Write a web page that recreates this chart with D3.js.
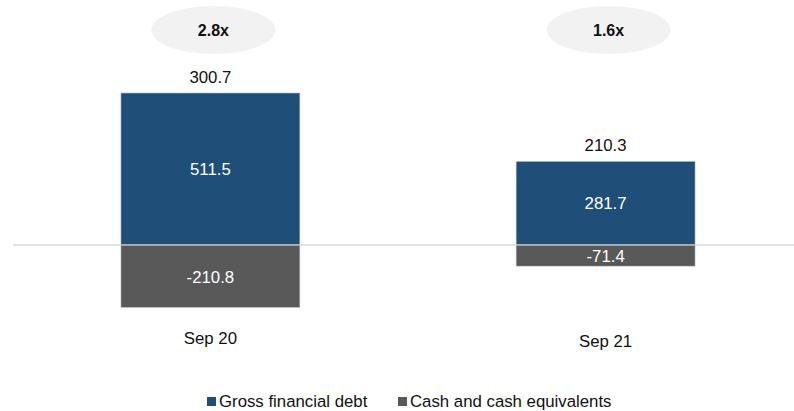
<!DOCTYPE html>
<html>
<head>
<meta charset="utf-8">
<script src="https://cdn.jsdelivr.net/npm/d3@7"></script>
<style>
  body { margin: 0; background: #fff; }
  svg { display: block; font-family: "Liberation Sans", Arial, sans-serif; }
</style>
</head>
<body>
<svg id="chart"></svg>
<script>
// data
const periods = ["Sep 20", "Sep 21"];
const grossDebt = [511.5, 281.7];
const cashEq = [-210.8, -71.4];
const netDebt = [300.7, 210.3];
const leverage = ["2.8x", "1.6x"];
const seriesNames = ["Gross financial debt", "Cash and cash equivalents"];

const width = 794, height = 411;
const blue = "#1f4e79", grey = "#595959";
const fontSize = "16.8px";

const svg = d3.select("#chart")
    .attr("width", width)
    .attr("height", height);

let x = d3.scaleBand()
    .domain(periods)
    .range([13, 803])
    .paddingInner(0.547)
    .paddingOuter(0.273);

let y = d3.scaleLinear()
    .domain([-250, 550])
    .range([319.3, 81.5]);

// leverage bubbles
const bubbles = svg.append("g");
bubbles.selectAll("ellipse")
    .data(periods)
    .join("ellipse")
    .attr("cx", d => x(d) + x.bandwidth() / 2 + 3)
    .attr("cy", 30)
    .attr("rx", 62)
    .attr("ry", 24)
    .attr("fill", "#f2f2f2");
bubbles.selectAll("text")
    .data(periods)
    .join("text")
    .attr("x", d => x(d) + x.bandwidth() / 2 + 3)
    .attr("y", 30)
    .attr("dy", "0.35em")
    .attr("text-anchor", "middle")
    .attr("font-size", "16px")
    .attr("font-weight", "bold")
    .attr("fill", "#111")
    .text((d, i) => leverage[i]);

// bars
const bars = svg.append("g");
bars.selectAll("rect.debt")
    .data(periods)
    .join("rect")
    .attr("class", "debt")
    .attr("x", d => x(d))
    .attr("width", x.bandwidth())
    .attr("y", (d, i) => y(grossDebt[i]))
    .attr("height", (d, i) => y(0) - y(grossDebt[i]))
    .attr("fill", blue)
    .attr("stroke", "#d9d9d9")
    .attr("stroke-width", 0.6);

bars.selectAll("rect.cash")
    .data(periods)
    .join("rect")
    .attr("class", "cash")
    .attr("x", d => x(d))
    .attr("width", x.bandwidth())
    .attr("y", y(0))
    .attr("height", (d, i) => y(cashEq[i]) - y(0))
    .attr("fill", grey)
    .attr("stroke", "#d9d9d9")
    .attr("stroke-width", 0.6);

// zero line
svg.append("line")
    .attr("x1", 13)
    .attr("x2", width)
    .attr("y1", y(0))
    .attr("y2", y(0))
    .attr("stroke", "#c8c8c8")
    .attr("stroke-width", 1.2);

// labels inside the bars
svg.append("g").selectAll("text")
    .data(periods)
    .join("text")
    .attr("x", d => x(d) + x.bandwidth() / 2)
    .attr("y", (d, i) => (y(grossDebt[i]) + y(0)) / 2)
    .attr("dy", "0.35em")
    .attr("text-anchor", "middle")
    .attr("font-size", fontSize)
    .attr("fill", "#fff")
    .text((d, i) => grossDebt[i].toFixed(1));

svg.append("g").selectAll("text")
    .data(periods)
    .join("text")
    .attr("x", d => x(d) + x.bandwidth() / 2)
    .attr("y", (d, i) => (y(cashEq[i]) + y(0)) / 2 + 1)
    .attr("dy", "0.35em")
    .attr("text-anchor", "middle")
    .attr("font-size", fontSize)
    .attr("fill", "#fff")
    .text((d, i) => cashEq[i].toFixed(1));

// net debt totals above
svg.append("g").selectAll("text")
    .data(periods)
    .join("text")
    .attr("x", d => x(d) + x.bandwidth() / 2)
    .attr("y", (d, i) => y(grossDebt[i]) - 16)
    .attr("dy", "0.35em")
    .attr("text-anchor", "middle")
    .attr("font-size", fontSize)
    .attr("fill", "#111")
    .text((d, i) => netDebt[i].toFixed(1));

// category labels
svg.append("g").selectAll("text")
    .data(periods)
    .join("text")
    .attr("x", d => x(d) + x.bandwidth() / 2)
    .attr("y", (d, i) => i === 0 ? 338 : 341)
    .attr("dy", "0.35em")
    .attr("text-anchor", "middle")
    .attr("font-size", fontSize)
    .attr("fill", "#111")
    .text(d => d);

// legend
const legendX = [207, 398];
const legend = svg.append("g");
legend.selectAll("rect")
    .data(seriesNames)
    .join("rect")
    .attr("x", (d, i) => legendX[i])
    .attr("y", 397)
    .attr("width", 9)
    .attr("height", 9)
    .attr("fill", (d, i) => i === 0 ? blue : grey);
legend.selectAll("text")
    .data(seriesNames)
    .join("text")
    .attr("x", (d, i) => legendX[i] + 12)
    .attr("y", 401)
    .attr("dy", "0.35em")
    .attr("font-size", fontSize)
    .attr("fill", "#111")
    .text(d => d);
</script>
</body>
</html>
